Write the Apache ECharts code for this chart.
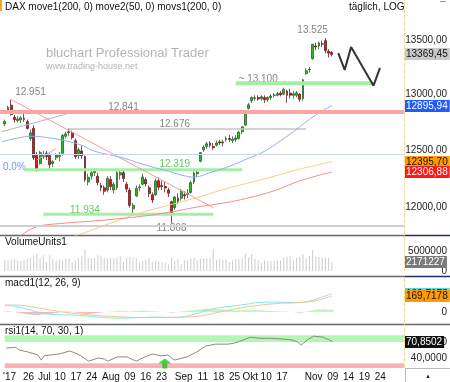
<!DOCTYPE html>
<html>
<head>
<meta charset="utf-8">
<script src="https://cdn.jsdelivr.net/npm/echarts@6/dist/echarts.min.js"></script>
<style>
html, body { margin: 0; padding: 0; background: #fff; }
#chart { width: 450px; height: 382px; }
</style>
</head>
<body>
<div id="chart"></div>
<script>
// slots: 0 = 15 Jun 2017, one per trading day up to 9 Nov, then calendar days
const slotCount = 126
const tickIdx  = [1, 7, 12, 17, 22, 27, 33, 39, 44, 49, 56, 62, 67, 72, 77, 82, 87, 97, 103, 108, 113, 118]
const tickText = ["'17", '26', 'Jul', '10', '17', '24', 'Aug', '09', '16', '23', 'Sep', '11', '18', '25', 'Okt', '10', '17', 'Nov', '09', '14', '19', '24']

// [open, close, low, high] for slot 1..103
const ohlc = [
  [12730,12752,12710,12770],[12840,12880,12830,12895],[12900,12815,12805,12951],[12790,12770,12740,12810],
  [12760,12775,12745,12800],[12765,12785,12740,12800],[12780,12771,12750,12820],[12750,12690,12680,12770],
  [12600,12650,12580,12680],[12690,12430,12410,12720],[12450,12330,12310,12480],[12380,12475,12370,12490],
  [12440,12460,12420,12490],[12470,12440,12410,12490],[12450,12370,12330,12470],[12380,12395,12350,12410],
  [12430,12450,12410,12470],[12440,12460,12400,12480],[12470,12627,12450,12640],[12620,12641,12600,12660],
  [12650,12660,12620,12690],[12650,12610,12590,12670],[12580,12440,12420,12600],[12450,12500,12420,12520],
  [12490,12447,12420,12540],[12440,12240,12220,12450],[12220,12260,12190,12290],[12270,12300,12240,12330],
  [12300,12320,12270,12340],[12270,12215,12190,12300],[12190,12170,12140,12210],[12170,12140,12110,12190],
  [12150,12250,12130,12270],[12240,12180,12150,12270],[12150,12200,12120,12220],[12170,12300,12150,12320],
  [12280,12300,12240,12330],[12300,12250,12220,12320],[12200,12160,12130,12220],[12150,12020,12000,12170],
  [11990,12020,11934,12040],[12100,12165,12090,12190],[12170,12177,12140,12200],[12200,12263,12190,12290],
  [12240,12203,12180,12260],[12170,12120,12090,12190],[12110,12065,12040,12130],[12110,12229,12100,12250],
  [12230,12174,12150,12260],[12190,12180,12150,12230],[12180,12168,12130,12220],[12150,12123,12090,12170],
  [12050,11946,11868,12060],[12000,12090,11980,12100],[12080,12055,12030,12120],[12080,12142,12060,12160],
  [12110,12102,12070,12140],[12110,12124,12080,12160],[12130,12214,12120,12230],[12220,12296,12200,12310],
  [12290,12304,12260,12330],[12400,12475,12390,12480],[12500,12524,12480,12540],[12530,12553,12510,12570],
  [12560,12540,12520,12575],[12530,12519,12500,12560],[12540,12560,12530,12580],[12570,12561,12545,12590],
  [12560,12570,12530,12590],[12590,12600,12570,12620],[12600,12592,12570,12630],[12580,12594,12560,12620],
  [12590,12605,12570,12630],[12600,12657,12590,12670],[12660,12704,12640,12710],[12720,12829,12710,12840],
  [12870,12903,12860,12920],[12940,12970,12920,12980],[12960,12968,12940,12990],[12970,12956,12940,12990],
  [12960,12976,12940,12990],[12970,12949,12920,12990],[12950,12970,12930,12980],[12970,12983,12950,13000],
  [12990,12992,12970,13010],[12990,13004,12980,13020],[13010,12995,12980,13030],[13000,13044,12990,13060],
  [13030,12990,12920,13040],[13010,12991,12960,13050],[12990,13003,12960,13030],[12990,13013,12970,13030],
  [13000,12953,12930,13010],[12960,13133,12940,13140],[13190,13217,13180,13240],[13230,13229,13200,13250],
  [13330,13465,13320,13470],[13450,13440,13410,13480],[13450,13479,13420,13490],[13470,13468,13440,13500],
  [13500,13406,13380,13525],[13400,13382,13340,13420],[13390,13369.45,13350,13400]
]

// moving averages: [slot, value]
const move2 = [[0,12570],[6,12610],[10,12620],[15,12605],[20,12580],[25,12540],[29,12487],[37,12435],[46,12357],
  [52,12314],[56,12280],[60,12262],[65,12300],[71,12355],[77,12425],[82,12487],[87,12580],[91,12660],[95,12750],[99,12830],[103,12895.94]]
const move1 = [[20,11740],[27,11800],[34,11870],[42,11945],[54,12035],[62,12094],[70,12161],[82,12246],[93,12331],[103,12395.70]]
const movs1 = [[3,11700],[7,11785],[11,11840],[18,11866],[31,11893],[46,11935],[54,11970],[62,12010],[70,12043],
  [76,12077],[85,12144],[93,12229],[103,12306.88]]

// drawn lines
const trendDown = [[3,12951],[66,12000]]
const trendShort = [[11,12410],[17,12510]]
const trendGrey = [[0,12660],[23,12842]]
const level13100 = [[73,13100],[116,13100]]
const level12676 = [[21,12685],[95,12685]]
const level12319 = [[7,12325],[75,12325]]
const level11934 = [[13,11945],[66,11945]]
const projection = [[105,13383],[107,13225],[109,13440],[116,13078],[118,13243]]

const noteText  = ['12.951', '13.525', '~ 13.100', '12.841', '12.676', '12.319', '11.934', '11.868', '0,0%']
const noteSlot  = [8.5, 96.9, 79.6, 37.9, 53.9, 53.6, 25.6, 52.7, 3.9]
const notePrice = [13020, 13602, 13140, 12883, 12730, 12376, 11980, 11829, 12350]
const noteColor = ['#666', '#666', '#666', '#666', '#666', '#3cb83c', '#3cb83c', '#666', '#4a7ef0']

const priceTicks = [12000, 12500, 13000, 13500]

// volume in millions, slot 1..103
const volume = [2.70,2.67,2.92,2.92,2.67,2.50,2.67,3.08,3.17,3.92,4.17,3.17,3.92,2.25,3.92,3.08,2.67,2.92,2.67,3.17,
  3.08,2.25,2.67,3.17,3.75,5.42,3.33,3.17,3.25,3.92,3.75,3.33,3.17,3.17,3.17,3.33,3.75,2.25,3.33,3.50,
  3.33,3.17,2.25,2.50,2.92,3.33,2.25,2.42,2.42,2.25,2.08,1.67,3.33,2.50,2.92,1.67,2.67,2.67,3.08,3.33,
  2.67,3.08,3.17,3.08,3.17,5.58,2.67,2.92,2.80,2.92,2.25,2.67,2.92,2.92,3.08,4.42,3.33,4.17,3.08,2.67,
  2.08,2.67,2.50,2.50,2.50,2.67,2.67,3.33,3.58,3.75,2.67,3.33,3.50,4.17,3.08,3.75,5.25,3.58,3.50,3.33,
  3.33,3.33,2.171227]

// macd panel
const macdLine = [[1,70],[5,55],[9,20],[13,-15],[18,-30],[24,-35],[30,-55],[36,-65],[42,-62],[48,-55],[54,-58],
  [58,-40],[62,-5],[66,35],[70,55],[76,80],[80,100],[86,105],[92,100],[96,115],[100,160],[103,195]]
const signalLine = [[1,75],[6,70],[12,40],[18,5],[24,-20],[30,-38],[36,-50],[42,-58],[48,-58],[54,-57],[60,-50],
  [64,-30],[68,0],[74,40],[80,70],[86,90],[92,98],[98,120],[103,169.7178]]
const macdHist = [6,8,5,0,-6,-12,-18,-22,-26,-30,-32,-28,-25,-22,-20,-16,-10,-4,4,8,8,4,-4,-10,-14,-18,-20,-18,-14,-10,
  -6,-2,2,4,6,8,10,10,8,6,8,10,12,14,12,10,8,6,4,2,0,-2,-6,-4,0,4,8,12,16,20,
  24,28,32,34,34,32,30,28,26,24,22,20,18,18,20,22,24,24,22,20,18,16,14,12,10,8,6,6,4,2,
  0,-4,-8,-4,4,10,18,24,28,30,28,26,24]

// rsi panel
const rsi = [[0,58.7],[3,60],[4,55],[7,51],[10,45.6],[11,36],[12,44],[17,48],[20,53],[21,51],[23,46],[26,34],[29,40],
  [31,38],[32,34],[35,42],[38,42],[41,34],[43,40],[46,47.5],[49,44],[51,45.6],[53,36],[57,42],[60,51],[63,62.5],
  [66,66],[70,66],[72,68],[74,72],[77,79],[80,77],[83,77],[87,75.6],[90,74],[92,70],[93,64],[95,74],[97,81],[100,79],[103,70.8502]]
const rsiSignal = [[50,29.7]]

// last-value tags on the right axis: [axis, value, text, background, text colour]
const lastTags = [
  [0, 13369.45, '13369,45', '#c8c8c8', '#111'],
  [0, 12895.94, '12895,94', '#1f5cff', '#fff'],
  [0, 12395.70, '12395,70', '#ff9a00', '#111'],
  [0, 12306.88, '12306,88', '#ff1a1a', '#fff'],
  [1, 2171227, '2171227', '#7a7a7a', '#fff'],
  [2, 195, '169,7178', '#46dcef', '#111'],
  [2, 169.7178, '169,7178', '#ff9a00', '#111'],
  [3, 70.8502, '70,8502', '#111', '#fff']
]

const lg = Math.log
const comma = (v, d) => v.toFixed(d).replace('.', ',')
const FONT = '"Liberation Sans", Arial, sans-serif'

const slots = Array.from({length: slotCount}, (_, i) => String(i))
const tickMap = {}
tickIdx.forEach((s, i) => { tickMap[s] = tickText[i] })

const lnPts = pts => pts.map(p => [p[0], lg(p[1])])

function seg(name, pts, color, width, extra){
  return Object.assign({
    name: name, type: 'line', xAxisIndex: 0, yAxisIndex: 0,
    data: lnPts(pts), symbol: 'none', silent: true,
    lineStyle: {color: color, width: width}
  }, extra || {})
}

const yLine = {show: true, lineStyle: {color: '#eedc9c', type: 'dashed', width: 1}}
const xAxes = [0, 1, 2, 3].map(i => ({
  type: 'category', gridIndex: i, data: slots, boundaryGap: true,
  axisLine: {show: false}, axisTick: {show: false}, splitLine: {show: false},
  axisLabel: i < 3 ? {show: false} : {
    show: true, interval: 0, margin: 4, fontSize: 10, fontFamily: FONT, color: '#111',
    formatter: (v, idx) => tickMap[idx] || ''
  }
}))

const rightLabel = {fontSize: 10, fontFamily: FONT, color: '#222', align: 'right', margin: 43}

const staticGraphics = [
  {type: 'rect', shape: {x: 0, y: 0, width: 2, height: 11}, style: {fill: '#f5a623'}},
  {type: 'text', x: 5, y: 7, style: {text: 'DAX move1(200, 0) move2(50, 0) movs1(200, 0)', font: '10px ' + FONT, fill: '#111', verticalAlign: 'middle'}},
  {type: 'text', x: 349, y: 7, style: {text: 'täglich, LOG', font: '10px ' + FONT, fill: '#111', verticalAlign: 'middle'}},
  {type: 'rect', shape: {x: 440, y: 1, width: 6, height: 1}, style: {fill: '#999'}},
  {type: 'text', x: 46, y: 53, style: {text: 'bluchart Professional Trader', font: '13px ' + FONT, fill: '#b4b4b4', verticalAlign: 'middle'}},
  {type: 'text', x: 46, y: 67, style: {text: 'www.trading-house.net', font: '9px ' + FONT, fill: '#b4b4b4', verticalAlign: 'middle'}},
  {type: 'text', x: 5, y: 242, style: {text: 'VolumeUnits1', font: '10px ' + FONT, fill: '#111', verticalAlign: 'middle'}},
  {type: 'text', x: 5, y: 283, style: {text: 'macd1(12, 26, 9)', font: '10px ' + FONT, fill: '#111', verticalAlign: 'middle'}},
  {type: 'text', x: 5, y: 331, style: {text: 'rsi1(14, 70, 30, 1)', font: '10px ' + FONT, fill: '#111', verticalAlign: 'middle'}},
  {type: 'line', shape: {x1: 0, y1: 235.5, x2: 405, y2: 235.5}, style: {stroke: '#666', lineWidth: 1.5}},
  {type: 'line', shape: {x1: 405, y1: 235.5, x2: 450, y2: 235.5}, style: {stroke: '#1c2c6c', lineWidth: 1.5}},
  {type: 'line', shape: {x1: 0, y1: 276.5, x2: 405, y2: 276.5}, style: {stroke: '#666', lineWidth: 1.5}},
  {type: 'line', shape: {x1: 405, y1: 276.5, x2: 450, y2: 276.5}, style: {stroke: '#1c2c6c', lineWidth: 1.5}},
  {type: 'line', shape: {x1: 0, y1: 324.5, x2: 450, y2: 324.5}, style: {stroke: '#666', lineWidth: 1.5}},
  {type: 'line', shape: {x1: 405, y1: 368.5, x2: 450, y2: 368.5}, style: {stroke: '#bbb', lineWidth: 1}},
  {type: 'line', shape: {x1: 405.5, y1: 368, x2: 405.5, y2: 382}, style: {stroke: '#bbb', lineWidth: 1}},
  {type: 'text', x: 428, y: 376, style: {text: '▲', font: '6px ' + FONT, fill: '#222', align: 'center', verticalAlign: 'middle'}}
]

const option = {
  animation: false,
  grid: [
    {left: 0, top: 0, width: 405, height: 235},
    {left: 0, top: 237, width: 405, height: 34},
    {left: 0, top: 277, width: 405, height: 47},
    {left: 0, top: 325, width: 405, height: 43}
  ],
  xAxis: xAxes,
  yAxis: [
    {type: 'value', gridIndex: 0, position: 'right', min: lg(11771), max: lg(13893),
      axisLine: yLine, axisTick: {show: false}, splitLine: {show: false},
      axisLabel: Object.assign({customValues: priceTicks.map(lg), formatter: v => comma(Math.exp(v), 2)}, rightLabel)},
    {type: 'value', gridIndex: 1, position: 'right', min: 0, max: 8.5e6,
      axisLine: yLine, axisTick: {show: false}, splitLine: {show: false},
      axisLabel: Object.assign({customValues: [0, 5e6], formatter: v => String(v)}, rightLabel)},
    {type: 'value', gridIndex: 2, position: 'right', min: -128, max: 372,
      axisLine: yLine, axisTick: {show: false}, splitLine: {show: false},
      axisLabel: Object.assign({customValues: [0], formatter: () => '0'}, rightLabel)},
    {type: 'value', gridIndex: 3, position: 'right', min: 21.2, max: 101.9,
      axisLine: yLine, axisTick: {show: false}, splitLine: {show: false},
      axisLabel: Object.assign({customValues: [40, 70], formatter: v => comma(v, 4)}, rightLabel)}
  ],
  series: [
    seg('grey rising', trendGrey, '#b8b8b8', 1, {
      markLine: {
        silent: true, symbol: ['none', 'none'], label: {show: false},
        data: [
          {yAxis: lg(12841), lineStyle: {color: '#ffa4a4', width: 4, type: 'solid'}},
          {yAxis: lg(12410), lineStyle: {color: '#c9d7f5', width: 1, type: 'solid'}},
          {yAxis: lg(11900), lineStyle: {color: '#d0d0d0', width: 2, type: 'solid'}}
        ]
      }
    }),
    seg('13.100', level13100, '#a6eea6', 4),
    seg('12.676', level12676, '#c4c4c4', 1.5),
    seg('12.319', level12319, '#a6eea6', 3),
    seg('11.934', level11934, '#a6eea6', 3),
    seg('trend', trendDown, '#f49a9a', 1),
    seg('trend short', trendShort, '#f49a9a', 1),
    seg('move1', move1, '#ffc98a', 1, {smooth: 0.4}),
    seg('movs1', movs1, '#f58c8c', 1, {smooth: 0.4}),
    seg('move2', move2, '#93aef0', 1, {smooth: 0.4}),
    seg('projection', projection, '#333', 2),
    {
      name: 'DAX', type: 'candlestick', xAxisIndex: 0, yAxisIndex: 0, barWidth: 2.4,
      data: [['-', '-', '-', '-']].concat(ohlc.map(r => r.map(lg))),
      itemStyle: {color: '#22c022', color0: '#e8141b', borderColor: '#2f5f2f', borderColor0: '#5f2222', borderWidth: 0.8}
    },
    {
      name: 'notes', type: 'scatter', xAxisIndex: 0, yAxisIndex: 0, symbolSize: 1, silent: true,
      itemStyle: {color: 'transparent'},
      label: {show: true, position: 'inside', fontSize: 10, fontFamily: FONT, formatter: p => p.name},
      data: noteText.map((t, i) => ({name: t, value: [noteSlot[i], lg(notePrice[i])], label: {color: noteColor[i]}}))
    },
    {
      name: 'VolumeUnits1', type: 'bar', xAxisIndex: 1, yAxisIndex: 1, barWidth: 1,
      data: ['-'].concat(volume.map(v => v * 1e6)),
      itemStyle: {color: '#cdcdcd'}
    },
    {
      name: 'hist', type: 'bar', xAxisIndex: 2, yAxisIndex: 2, barWidth: '100%',
      data: ['-'].concat(macdHist).map(v => v === '-' ? v : {value: v, itemStyle: {color: v >= 0 ? '#bff2bf' : '#f7b3b3'}})
    },
    {
      name: 'macd', type: 'line', xAxisIndex: 2, yAxisIndex: 2, data: macdLine, symbol: 'none', smooth: 0.4,
      lineStyle: {color: '#7ee8f4', width: 1}
    },
    {
      name: 'signal', type: 'line', xAxisIndex: 2, yAxisIndex: 2, data: signalLine, symbol: 'none', smooth: 0.4,
      lineStyle: {color: '#f5c28a', width: 1}
    },
    {
      name: 'rsi', type: 'line', xAxisIndex: 3, yAxisIndex: 3, data: rsi, symbol: 'none',
      lineStyle: {color: '#888', width: 1},
      markArea: {
        silent: true,
        data: [
          [{yAxis: 70, itemStyle: {color: '#b3f7b3'}}, {yAxis: 82.5}],
          [{yAxis: 21.2, itemStyle: {color: '#f8b4b4'}}, {yAxis: 30}]
        ]
      }
    },
    {
      name: 'signal arrow', type: 'scatter', xAxisIndex: 3, yAxisIndex: 3, data: rsiSignal, silent: true,
      symbol: 'path://M6.5,0 L13,5 L9,5 L9,10 L4,10 L4,5 L0,5 Z', symbolSize: [13, 10],
      itemStyle: {color: '#1cc41c'}
    }
  ]
}

const myChart = echarts.init(document.getElementById('chart'), null, {renderer: 'canvas'})
myChart.setOption(option)

// place the value tags through the axes' own scales
const tagGraphics = lastTags.map(t => {
  const v = t[0] === 0 ? lg(t[1]) : t[1]
  const y = Math.round(myChart.convertToPixel({yAxisIndex: t[0]}, v))
  return {
    type: 'text', x: 405, y: y, z: 50,
    style: {text: t[2], font: '10px ' + FONT, fill: t[4], backgroundColor: t[3],
      padding: [1, 2, 0, 1], lineHeight: 11, verticalAlign: 'middle'}
  }
})
myChart.setOption({graphic: staticGraphics.concat(tagGraphics)})
</script>
</body>
</html>
